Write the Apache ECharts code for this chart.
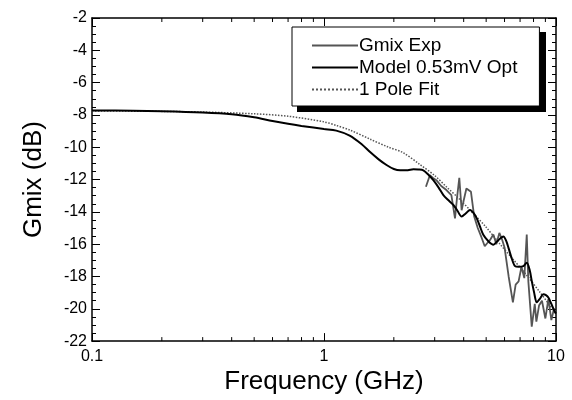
<!DOCTYPE html>
<html>
<head>
<meta charset="utf-8">
<script src="https://cdn.jsdelivr.net/npm/echarts@6/dist/echarts.min.js"></script>
<style>
  html, body { margin: 0; padding: 0; background: #fff; }
  #chart { width: 572px; height: 400px; }
</style>
</head>
<body>
<div id="chart"></div>
<script>
// Model 0.53mV Opt (black)
const freqModel = [0.1, 0.15, 0.2, 0.3, 0.4, 0.5, 0.6, 0.7, 0.8, 0.9, 1.0, 1.13, 1.29, 1.45, 1.58, 1.72, 1.86, 2.0, 2.13, 2.3, 2.43, 2.55, 2.68, 2.82, 2.96, 3.12, 3.27, 3.45, 3.61, 3.75, 3.92, 4.08, 4.26, 4.4, 4.55, 4.7, 4.86, 5.1, 5.37, 5.6, 5.93, 6.1, 6.24, 6.45, 6.66, 6.9, 7.23, 7.48, 7.7, 7.86, 8.05, 8.26, 8.5, 8.82, 9.05, 9.27, 9.55, 9.9, 10];
const gainModel = [-7.72, -7.74, -7.77, -7.85, -7.96, -8.15, -8.38, -8.55, -8.68, -8.78, -8.87, -8.97, -9.28, -9.8, -10.3, -10.75, -11.1, -11.35, -11.43, -11.42, -11.37, -11.38, -11.43, -11.7, -12.04, -12.5, -12.96, -13.3, -13.57, -13.9, -14.29, -14.1, -13.88, -14.05, -14.39, -14.9, -15.42, -15.8, -16.03, -15.8, -15.52, -15.8, -16.23, -16.9, -17.36, -17.4, -17.36, -17.15, -17.6, -18.28, -19.0, -19.6, -19.4, -19.1, -19.15, -19.3, -19.7, -20.2, -20.3];

// Gmix Exp (grey, measured)
const freqExp = [2.75, 2.86, 2.95, 3.05, 3.2, 3.37, 3.54, 3.67, 3.74, 3.83, 3.92, 4.0, 4.11, 4.3, 4.44, 4.6, 4.78, 4.93, 5.08, 5.22, 5.37, 5.53, 5.7, 5.85, 6.0, 6.25, 6.52, 6.7, 6.9, 7.1, 7.3, 7.48, 7.6, 7.86, 8.1, 8.23, 8.45, 8.7, 9.0, 9.27, 9.55, 9.8, 10];
const gainExp = [-12.45, -11.73, -11.9, -12.04, -12.4, -12.65, -12.96, -14.4, -13.2, -11.9, -13.9, -13.3, -12.55, -12.76, -14.29, -15.0, -15.6, -16.13, -15.9, -15.7, -15.4, -16.0, -15.3, -15.7, -16.2, -18.0, -19.6, -18.5, -18.3, -17.4, -18.1, -15.4, -18.3, -21.1, -19.7, -20.8, -19.8, -19.5, -20.6, -19.4, -20.7, -20.0, -20.3];

// 1 Pole Fit (dotted)
const freqFit = [0.1, 0.2, 0.3, 0.5, 0.7, 1.0, 1.13, 1.3, 1.58, 1.9, 2.19, 2.58, 3.0, 3.37, 3.8, 4.4, 5.0, 5.7, 6.5, 7.5, 8.5, 10];
const gainFit = [-7.75, -7.78, -7.82, -7.93, -8.08, -8.43, -8.65, -8.95, -9.5, -10.0, -10.33, -11.05, -11.75, -12.45, -13.15, -14.1, -14.95, -15.95, -16.9, -17.95, -18.95, -20.3];

// minor ticks of the log axis
const minorTickFreqs = [0.2, 0.3, 0.4, 0.5, 0.6, 0.7, 0.8, 0.9, 2, 3, 4, 5, 6, 7, 8, 9];

const FONT = "Liberation Sans";

function zip(xs, ys) {
  return xs.map((x, i) => [x, ys[i]]);
}

const chart = echarts.init(document.getElementById("chart"));

const option = {
  animation: false,
  textStyle: { fontFamily: FONT },
  grid: { left: 92, top: 18, right: 16, bottom: 56 },
  // solid drop shadow behind the legend box
  graphic: [
    {
      type: "rect",
      left: 297,
      top: 32,
      shape: { width: 249, height: 80 },
      style: { fill: "#000" },
      z: 0,
      silent: true
    }
  ],
  legend: {
    orient: "vertical",
    left: 292,
    top: 27,
    z: 10,
    padding: [9, 22, 7, 19],
    itemGap: 3,
    itemWidth: 46,
    itemHeight: 19,
    backgroundColor: "#fff",
    borderColor: "#000",
    borderWidth: 1,
    itemStyle: { opacity: 0 },
    textStyle: { fontFamily: FONT, fontSize: 19, color: "#000", padding: [0, 0, 0, -4] },
    data: ["Gmix Exp", "Model 0.53mV Opt", "1 Pole Fit"]
  },
  xAxis: [
    {
      type: "log",
      logBase: 10,
      min: 0.1,
      max: 10,
      name: "Frequency (GHz)",
      nameLocation: "middle",
      nameGap: 27,
      nameTextStyle: { fontSize: 26, color: "#000", fontFamily: FONT },
      axisLine: { lineStyle: { color: "#000", width: 1.5 } },
      axisTick: { inside: true, length: 8, lineStyle: { color: "#000" } },
      axisLabel: { fontSize: 16, color: "#000", margin: 7, formatter: v => String(v) },
      splitLine: { show: false }
    },
    {
      type: "log",
      logBase: 10,
      min: 0.1,
      max: 10,
      position: "top",
      axisLine: { lineStyle: { color: "#000", width: 1.5 } },
      axisTick: { inside: true, length: 8, lineStyle: { color: "#000" } },
      axisLabel: { show: false },
      splitLine: { show: false }
    }
  ],
  yAxis: [
    {
      type: "value",
      min: -22,
      max: -2,
      interval: 2,
      name: "Gmix (dB)",
      nameLocation: "middle",
      nameGap: 45,
      nameTextStyle: { fontSize: 26, color: "#000", fontFamily: FONT },
      axisLine: { show: true, lineStyle: { color: "#000", width: 1.5 } },
      axisTick: { inside: true, length: 8, lineStyle: { color: "#000" } },
      minorTick: { show: true, splitNumber: 4, length: 4, lineStyle: { color: "#000" } },
      axisLabel: { fontSize: 16, color: "#000", margin: 5 },
      splitLine: { show: false }
    },
    {
      type: "value",
      min: -22,
      max: -2,
      interval: 2,
      position: "right",
      axisLine: { show: true, lineStyle: { color: "#000", width: 1.5 } },
      axisTick: { inside: true, length: 8, lineStyle: { color: "#000" } },
      minorTick: { show: true, splitNumber: 4, length: 4, lineStyle: { color: "#000" } },
      axisLabel: { show: false },
      splitLine: { show: false }
    }
  ],
  series: [
    {
      name: "Gmix Exp",
      type: "line",
      data: zip(freqExp, gainExp),
      showSymbol: false,
      symbol: "none",
      lineStyle: { color: "#555", width: 1.8 },
      itemStyle: { color: "#555" },
      z: 3
    },
    {
      name: "Model 0.53mV Opt",
      type: "line",
      data: zip(freqModel, gainModel),
      smooth: 0.3,
      showSymbol: false,
      symbol: "none",
      lineStyle: { color: "#000", width: 2 },
      itemStyle: { color: "#000" },
      z: 4
    },
    {
      name: "1 Pole Fit",
      type: "line",
      data: zip(freqFit, gainFit),
      smooth: 0.3,
      showSymbol: false,
      symbol: "none",
      lineStyle: { color: "#555", width: 1.5, type: "dotted" },
      itemStyle: { color: "#555" },
      z: 2
    },
    {
      // minor ticks for the log axes (bottom and top)
      type: "custom",
      silent: true,
      clip: false,
      data: minorTickFreqs,
      encode: { x: 0 },
      renderItem: function (params, api) {
        const f = api.value(0);
        const b = api.coord([f, -22]);
        const t = api.coord([f, -2]);
        const st = { stroke: "#000", lineWidth: 1 };
        return {
          type: "group",
          children: [
            { type: "line", shape: { x1: b[0], y1: b[1], x2: b[0], y2: b[1] - 4 }, style: st },
            { type: "line", shape: { x1: t[0], y1: t[1], x2: t[0], y2: t[1] + 4 }, style: st }
          ]
        };
      },
      z: 1
    }
  ]
};

chart.setOption(option);
</script>
</body>
</html>
